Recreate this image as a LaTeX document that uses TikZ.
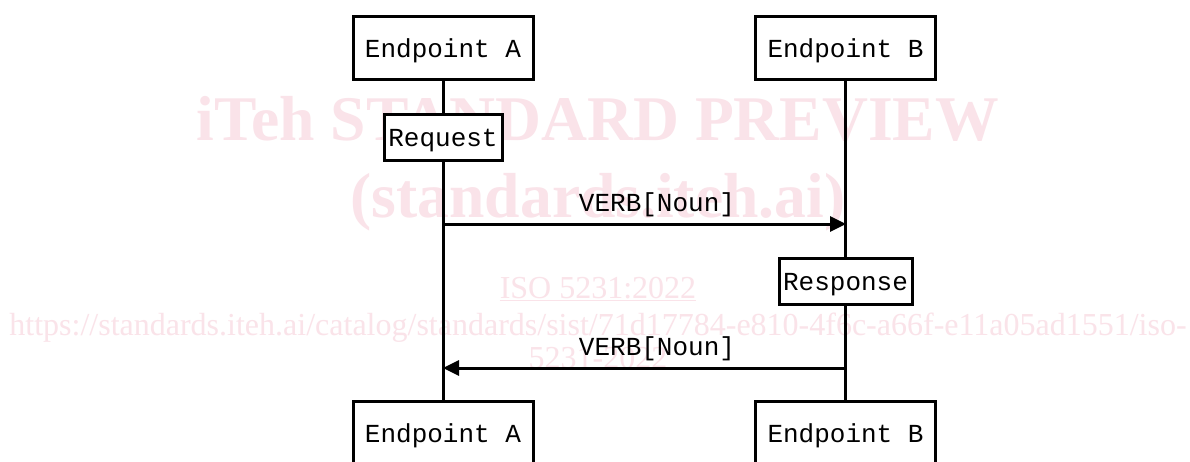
\documentclass[tikz,border=0pt]{standalone}
\usepackage{fontspec}
\setmainfont{Liberation Serif}
\newfontfamily\monofam{Liberation Mono}
\usetikzlibrary{arrows.meta}
\definecolor{wm}{RGB}{250,227,233}
\tikzset{
  box/.style={draw=black, line width=3pt, fill=white, inner sep=0pt,
    font=\monofam\fontsize{26}{26}\selectfont, text height=19pt, text depth=0pt},
  bigbox/.style={box, minimum width=180pt, minimum height=63pt},
  smallbox/.style={box, minimum height=46pt, text height=18pt},
  life/.style={line width=3pt},
  msg/.style={line width=3pt, -{Triangle[length=16pt,width=15pt]}},
  lbl/.style={font=\monofam\fontsize{26}{26}\selectfont, anchor=base, inner sep=0pt},
  wmb/.style={text=wm, font=\bfseries\fontsize{63.6}{63.6}\selectfont, anchor=base, inner sep=0pt},
  wmr/.style={text=wm, font=\fontsize{32}{32}\selectfont, anchor=base, inner sep=0pt}
}
\begin{document}
\begin{tikzpicture}[x=1pt,y=-1pt]
\useasboundingbox[fill=white] (0,0) rectangle (1190,461);
\clip (0,0) rectangle (1190,461);
% watermark
\node[wmb] (w1) at (598,140) {iTeh STANDARD PREVIEW};
\node[wmb] (w2) at (598,217) {(standards.iteh.ai)};
\node[wmr] (w3) at (598,298) {\underline{ISO 5231:2022}};
\node[wmr] (w4) at (598,335) {https://standards.iteh.ai/catalog/standards/sist/71d17784-e810-4f6c-a66f-e11a05ad1551/iso-};
\node[wmr] (w5) at (598,368) {5231-2022};
% boxes
\node[bigbox] (A1) at (443,47.5) {Endpoint A};
\node[bigbox] (B1) at (845.5,47.5) {Endpoint B};
\node[bigbox] (A2) at (443,432.5) {Endpoint A};
\node[bigbox] (B2) at (845.5,432.5) {Endpoint B};
\node[smallbox, minimum width=118pt] (req) at (443,137) {Request};
\node[smallbox, minimum width=133pt] (res) at (845.5,281) {Response};
% lifelines
\draw[life] (A1) -- (req);
\draw[life] (req) -- (A2);
\draw[life] (B1) -- (res);
\draw[life] (res) -- (B2);
% messages
\coordinate (m1s) at (443,224);
\coordinate (m1e) at (846,224);
\coordinate (m2s) at (846,368);
\coordinate (m2e) at (443,368);
\draw[msg] (m1s) -- (m1e);
\draw[msg] (m2s) -- (m2e);
\node[lbl] (l1) at (657,211) {VERB[Noun]};
\node[lbl] (l2) at (657,355) {VERB[Noun]};
\end{tikzpicture}
\end{document}
